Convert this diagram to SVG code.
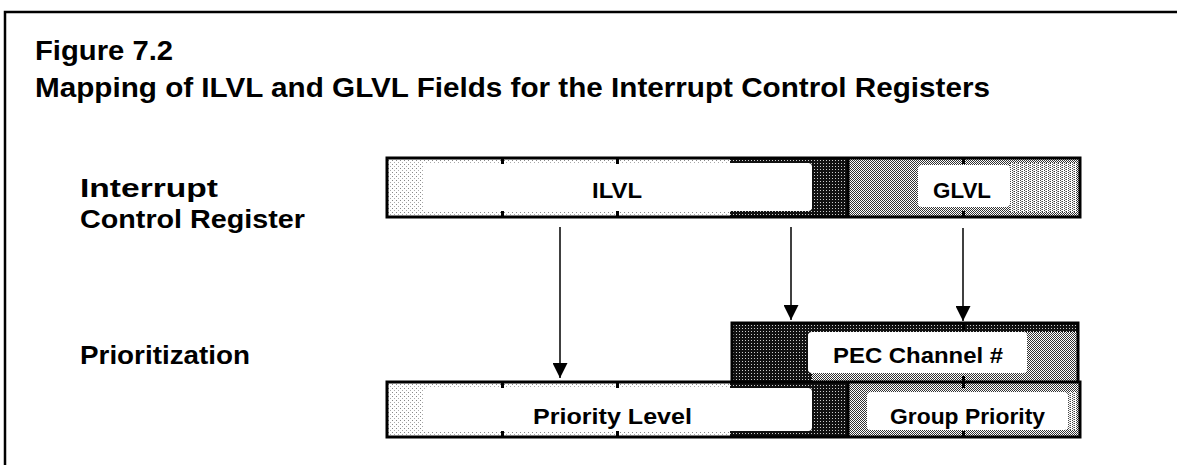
<svg xmlns="http://www.w3.org/2000/svg" width="1187" height="465" viewBox="0 0 1187 465">
<style>
.t{font-family:"Liberation Sans",Arial,sans-serif;font-weight:bold;fill:#000}
.title{font-size:27px}
.lbl{font-size:26px}
.box{font-size:22px}
.bd{fill:none;stroke:#000;stroke-width:3}
.div{stroke:#000;stroke-width:3}
.tick{fill:#000}
.con{stroke:#000;stroke-width:1.5;fill:none}
</style>
<defs>
<pattern id="light" width="4" height="4" patternUnits="userSpaceOnUse"><rect width="4" height="4" fill="#fff"/><rect width="1" height="1" fill="#888"/><rect x="2" y="2" width="1" height="1" fill="#aaa"/></pattern>
<pattern id="med" width="2" height="2" patternUnits="userSpaceOnUse"><rect width="2" height="2" fill="#fff"/><rect width="1" height="1" fill="#333"/><rect x="1" y="1" width="1" height="1" fill="#333"/></pattern>
<pattern id="lmed" width="4" height="2" patternUnits="userSpaceOnUse"><rect width="4" height="2" fill="#fff"/><rect width="1" height="1" fill="#444"/><rect x="2" y="1" width="1" height="1" fill="#444"/><rect x="1" y="1" width="1" height="1" fill="#999"/></pattern>
<pattern id="dark" width="3" height="3" patternUnits="userSpaceOnUse"><rect width="3" height="3" fill="#111"/><rect x="1" y="1" width="1" height="1" fill="#ccc"/></pattern>
<marker id="ah" viewBox="0 0 10 10" refX="10" refY="5" markerWidth="10" markerHeight="10" markerUnits="userSpaceOnUse" orient="auto"><path d="M0,0 L10,5 L0,10 z" fill="#000"/></marker>
<marker id="ah2" viewBox="0 0 15 15" refX="15" refY="7.5" markerWidth="15" markerHeight="15" markerUnits="userSpaceOnUse" orient="auto"><path d="M0,0 L15,7.5 L0,15 z" fill="#000"/></marker>
</defs>

<g id="frame">
<path d="M5,465 L5,12 L1177,12" fill="none" stroke="#000" stroke-width="2.5"/>
</g>

<g id="title">
<text class="t title" x="35" y="60" textLength="138" lengthAdjust="spacingAndGlyphs">Figure 7.2</text>
<text class="t title" x="35" y="97" textLength="955" lengthAdjust="spacingAndGlyphs">Mapping of ILVL and GLVL Fields for the Interrupt Control Registers</text>
</g>

<g id="labels">
<text class="t lbl" x="80" y="197" textLength="138" lengthAdjust="spacingAndGlyphs">Interrupt</text>
<text class="t lbl" x="80" y="228" textLength="225" lengthAdjust="spacingAndGlyphs">Control Register</text>
<text class="t lbl" x="80" y="364" textLength="170" lengthAdjust="spacingAndGlyphs">Prioritization</text>
</g>

<g id="register">
<rect x="387" y="158" width="343" height="59" fill="url(#light)"/>
<rect x="730" y="158" width="118" height="59" fill="url(#dark)"/>
<rect x="423" y="163" width="389" height="48" rx="4" fill="#fff"/>
<rect x="848" y="158" width="232" height="59" fill="url(#med)"/>
<rect x="1010" y="163" width="66" height="49" fill="url(#lmed)"/>
<rect x="918" y="165" width="92" height="42" rx="4" fill="#fff"/>
<rect x="387" y="158" width="693" height="59" class="bd"/>
<line x1="848" y1="158" x2="848" y2="217" class="div"/>
<g class="tick">
<rect x="501" y="158" width="3" height="6"/><rect x="501" y="211" width="3" height="6"/>
<rect x="616" y="158" width="3" height="6"/><rect x="616" y="211" width="3" height="6"/>
<rect x="962" y="158" width="3" height="6"/><rect x="962" y="211" width="3" height="6"/>
</g>
<text class="t box" x="617" y="198" text-anchor="middle" textLength="50" lengthAdjust="spacingAndGlyphs">ILVL</text>
<text class="t box" x="962" y="198" text-anchor="middle" textLength="58" lengthAdjust="spacingAndGlyphs">GLVL</text>
</g>

<g id="pec">
<rect x="732" y="323" width="346" height="60" fill="url(#med)"/>
<rect x="732" y="323" width="80" height="60" fill="url(#dark)"/>
<rect x="812" y="323" width="266" height="9" fill="url(#dark)"/>
<rect x="808" y="332" width="219" height="41" rx="4" fill="#fff"/>
<rect x="732" y="323" width="346" height="60" class="bd"/>
<g class="tick"><rect x="962" y="323" width="3" height="7"/><rect x="962" y="376" width="3" height="7"/></g>
<text class="t box" x="833" y="363" textLength="170" lengthAdjust="spacingAndGlyphs">PEC Channel #</text>
</g>

<g id="priority">
<rect x="387" y="382" width="343" height="55" fill="url(#light)"/>
<rect x="730" y="382" width="118" height="55" fill="url(#dark)"/>
<rect x="423" y="388" width="389" height="43" rx="4" fill="#fff"/>
<rect x="848" y="382" width="232" height="55" fill="url(#med)"/>
<rect x="867" y="392" width="201" height="38" rx="4" fill="#fff"/>
<rect x="1068" y="392" width="9" height="38" fill="url(#lmed)"/>
<rect x="387" y="382" width="693" height="55" class="bd"/>
<line x1="848" y1="382" x2="848" y2="437" class="div"/>
<g class="tick">
<rect x="501" y="382" width="3" height="6"/><rect x="501" y="431" width="3" height="6"/>
<rect x="616" y="382" width="3" height="6"/><rect x="616" y="431" width="3" height="6"/>
<rect x="962" y="382" width="3" height="6"/><rect x="962" y="431" width="3" height="6"/>
</g>
<text class="t box" x="533" y="424" textLength="159" lengthAdjust="spacingAndGlyphs">Priority Level</text>
<text class="t box" x="890" y="424" textLength="155" lengthAdjust="spacingAndGlyphs">Group Priority</text>
</g>

<g id="connectors">
<line x1="560" y1="227" x2="560" y2="378" class="con" marker-end="url(#ah2)"/>
<line x1="791" y1="227" x2="791" y2="320" class="con" marker-end="url(#ah2)"/>
<line x1="963" y1="228" x2="963" y2="321" class="con" marker-end="url(#ah2)"/>
</g>
</svg>
